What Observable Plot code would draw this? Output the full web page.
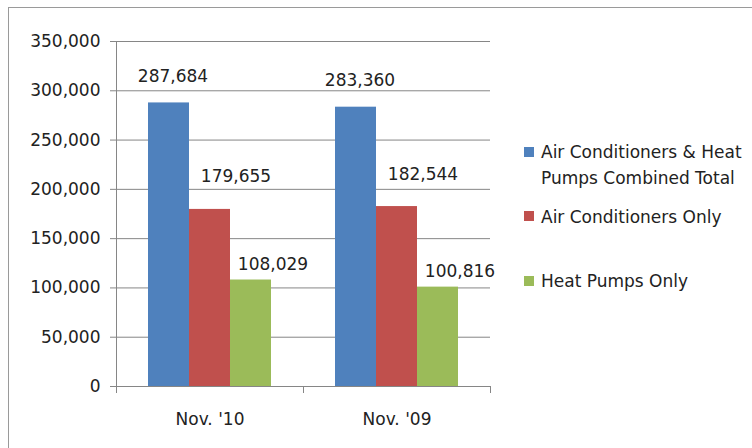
<!DOCTYPE html>
<html>
<head>
<meta charset="utf-8">
<script src="https://cdn.jsdelivr.net/npm/d3@7"></script>
<script src="https://cdn.jsdelivr.net/npm/@observablehq/plot@0.6"></script>
<style>
  html, body { margin: 0; padding: 0; background: #fff; overflow: hidden; }
  #wrap { position: relative; width: 752px; height: 448px; font-family: "DejaVu Sans", sans-serif; color: #222; }
  #border { position: absolute; left: 8px; top: 7px; width: 800px; height: 500px; border-top: 1px solid #9a9a9a; border-left: 1px solid #9a9a9a; pointer-events: none; }
  #chart { position: absolute; left: 0; top: 0; }
  .leg { position: absolute; left: 541px; font-size: 17px; line-height: 26px; white-space: nowrap; }
  .sw { position: absolute; left: 524px; width: 10px; height: 10px; }
</style>
</head>
<body>
<div id="wrap">
  <div id="chart"></div>
  <div id="legend"></div>
  <div id="border"></div>
</div>
<script>
const periods = ["Nov. '10", "Nov. '09"];
const seriesNames = ["Air Conditioners & Heat Pumps Combined Total", "Air Conditioners Only", "Heat Pumps Only"];
const legendLabels = [["Air Conditioners & Heat", "Pumps Combined Total"], ["Air Conditioners Only"], ["Heat Pumps Only"]];
const combinedTotal = [287684, 283360];
const acOnly = [179655, 182544];
const heatPumpsOnly = [108029, 100816];
const yTicks = [0, 50000, 100000, 150000, 200000, 250000, 300000, 350000];
const colors = ["#4F81BD", "#C0504D", "#9BBB59"];

const seriesValues = [combinedTotal, acOnly, heatPumpsOnly];
const rows = [];
periods.forEach((p, i) => {
  seriesNames.forEach((s, j) => rows.push({period: p, series: s, value: seriesValues[j][i]}));
});
const fmt = d3.format(",");
const plotH = 448 - 41 - 62;
const axisColor = "#868686";
// per-series data-label offsets (style), as placed in the original chart
const labelStyle = [{dx: 4, dy: -21}, {dx: 26, dy: -27}, {dx: 22, dy: -10}];

const labelMarks = seriesNames.map((s, j) =>
  Plot.text(rows.filter(r => r.series === s), {
    fx: "period", x: "series", y: "value", text: d => fmt(d.value),
    lineAnchor: "bottom", dx: labelStyle[j].dx, dy: labelStyle[j].dy, fill: "#222"
  })
);

const chart = Plot.plot({
  width: 752,
  height: 448,
  marginLeft: 116,
  marginRight: 262,
  marginTop: 41,
  marginBottom: 62,
  style: {fontFamily: "DejaVu Sans", fontSize: "17px", color: "#222", background: "transparent"},
  fx: {domain: periods, padding: 0, label: null},
  x: {domain: seriesNames, paddingInner: 0, paddingOuter: 0.75, axis: null},
  y: {domain: [0, 350000], label: null},
  color: {domain: seriesNames, range: colors},
  marks: [
    Plot.gridY({ticks: yTicks, stroke: axisColor, strokeOpacity: 1}),
    Plot.frame({anchor: "left", facetAnchor: "left", insetBottom: -6, stroke: axisColor}),
    Plot.frame({anchor: "left", insetTop: plotH, insetBottom: -6, stroke: axisColor}),
    Plot.frame({anchor: "right", insetTop: plotH, insetBottom: -6, stroke: axisColor}),
    Plot.axisY({ticks: yTicks, tickFormat: fmt, tickSize: 6, tickPadding: 10, label: null, stroke: axisColor, fill: "#222"}),
    Plot.axisFx({anchor: "bottom", tickSize: 0, tickPadding: 26, label: null, fill: "#222"}),
    Plot.barY(rows, {fx: "period", x: "series", y: "value", fill: "series"}),
    ...labelMarks
  ]
});
document.getElementById("chart").appendChild(chart);

// Legend (HTML, to the right of the plot)
const legend = document.getElementById("legend");
const textTops = [139, 204, 268];
const swTops = [147, 211, 276];
legendLabels.forEach((lines, i) => {
  const sw = document.createElement("div");
  sw.className = "sw";
  sw.style.top = swTops[i] + "px";
  sw.style.background = colors[i];
  legend.appendChild(sw);
  const t = document.createElement("div");
  t.className = "leg";
  t.style.top = textTops[i] + "px";
  t.innerHTML = lines.map(l => l.replace(/&/g, "&amp;")).join("<br>");
  legend.appendChild(t);
});
</script>
</body>
</html>
